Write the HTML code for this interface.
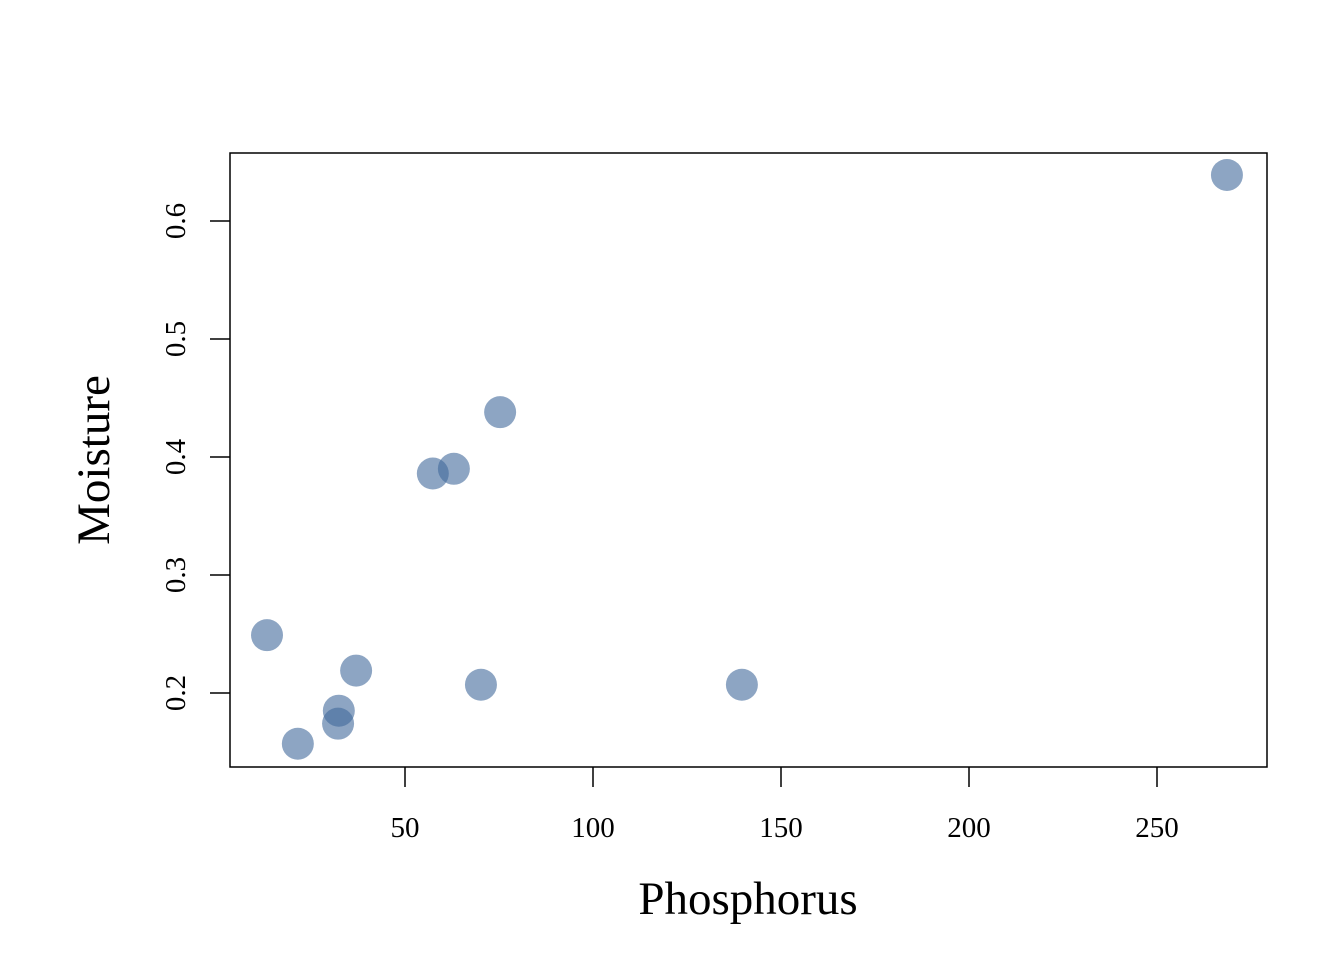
<!DOCTYPE html>
<html><head><meta charset="utf-8"><style>body{margin:0;background:#fff}svg{display:block}text{font-family:"Liberation Serif",serif;fill:#000}</style></head>
<body>
<svg id="c" width="1344" height="960">
<rect x="230" y="153" width="1037" height="614" fill="none" stroke="#000" stroke-width="1.5"/>
<g id="ax"></g><g id="pts"></g>
<text x="748" y="914" font-size="47" text-anchor="middle">Phosphorus</text>
<text transform="translate(109,460) rotate(-90)" font-size="47" text-anchor="middle">Moisture</text>
</svg>
<script>
const xVals=[13.3,21.5,32.2,32.4,37.0,57.4,63.0,75.3,70.2,139.6,268.6];
const yVals=[0.249,0.157,0.174,0.185,0.219,0.386,0.390,0.438,0.207,0.207,0.639];
const xTicks=[50,100,150,200,250];
const yTicks=[0.2,0.3,0.4,0.5,0.6];
const X=v=>405+(v-50)*3.76, Y=v=>693-(v-0.2)*1180;
const NS="http://www.w3.org/2000/svg";
const ax=document.getElementById('ax'), pts=document.getElementById('pts');
function mk(t,a,p){const e=document.createElementNS(NS,t);for(const k in a)e.setAttribute(k,a[k]);p.appendChild(e);return e;}
xTicks.forEach(v=>{
 const l=mk('line',{x1:X(v),x2:X(v),y1:767,y2:787,stroke:'#000','stroke-width':1.5},ax);
 
 
 const t=mk('text',{x:X(v),y:837,'font-size':29,'text-anchor':'middle'},ax);t.textContent=v;
 
 
});
yTicks.forEach(v=>{
 const l=mk('line',{x1:210,x2:230,y1:Y(v),y2:Y(v),stroke:'#000','stroke-width':1.5},ax);
 
 
 const t=mk('text',{transform:`translate(185,${Y(v)}) rotate(-90)`,'font-size':29,'text-anchor':'middle'},ax);t.textContent=v;
 
 
});
xVals.forEach((v,i)=>{
 const c=mk('circle',{cx:X(v),cy:Y(yVals[i]),r:16,fill:'rgba(65,105,155,0.6)'},pts);
 
 
});
</script>
</body></html>
